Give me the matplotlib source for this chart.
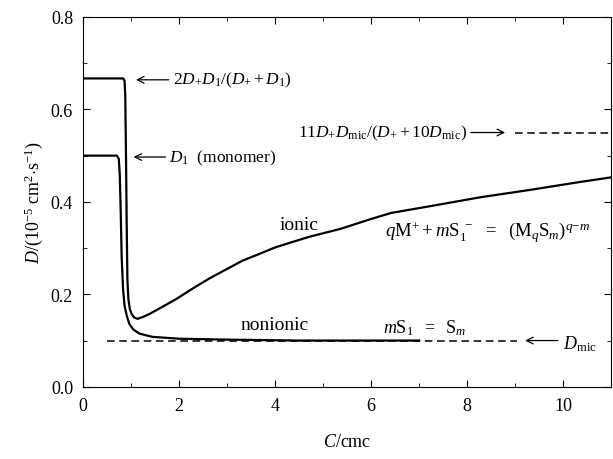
import numpy as np
import matplotlib.pyplot as plt
from matplotlib.ticker import MultipleLocator, FormatStrFormatter

plt.rcParams['font.family'] = 'Liberation Serif'
plt.rcParams['mathtext.fontset'] = 'custom'
plt.rcParams['mathtext.rm'] = 'Liberation Serif'
plt.rcParams['mathtext.it'] = 'Liberation Serif:italic'

# ionic surfactant curve
ionic_c = [0, 0.84, 0.87, 0.885, 0.9, 0.915, 0.93, 0.95, 0.98, 1.02, 1.07, 1.14, 1.25, 1.4,
           1.59, 1.95, 2.28, 2.63, 3.31, 4.02, 4.7, 5.38, 5.94, 6.42, 7.25, 8.28, 9.32,
           10.35, 11.0]
ionic_d = [0.667, 0.667, 0.662, 0.63, 0.5, 0.35, 0.23, 0.19, 0.168, 0.157, 0.15, 0.147, 0.151, 0.158,
           0.169, 0.19, 0.212, 0.234, 0.272, 0.302, 0.324, 0.342, 0.361, 0.376, 0.391, 0.41, 0.426,
           0.443, 0.453]

# nonionic surfactant curve
nonionic_c = [0, 0.71, 0.75, 0.77, 0.79, 0.81, 0.84, 0.87, 0.92, 0.97, 1.05, 1.18, 1.45, 2.0,
              3.0, 4.5, 7.0]
nonionic_d = [0.5, 0.5, 0.493, 0.46, 0.38, 0.28, 0.21, 0.175, 0.152, 0.136, 0.124, 0.115, 0.108,
              0.104, 0.102, 0.1, 0.1]

d_mic = 0.1
d_limit = 0.55

fig = plt.figure(figsize=(6.13, 4.6), dpi=100)
ax = fig.add_axes([0.135, 0.157, 0.862, 0.804])

ax.plot(ionic_c, ionic_d, color='black', lw=1.6)
ax.plot(nonionic_c, nonionic_d, color='black', lw=1.6)
ax.plot([0.5, 9.05], [d_mic, d_mic], color='black', lw=1.1, ls=(0, (5, 3)))
ax.plot([9.0, 11.0], [d_limit, d_limit], color='black', lw=1.1, ls=(0, (5, 3)))

arrow = dict(arrowstyle='->', lw=0.9, color='black', mutation_scale=12)
ax.annotate('', xy=(1.05, 0.664), xytext=(1.85, 0.664), arrowprops=arrow)
ax.annotate('', xy=(1.0, 0.497), xytext=(1.78, 0.497), arrowprops=arrow)
ax.annotate('', xy=(8.85, d_limit), xytext=(8.02, d_limit), arrowprops=arrow)
ax.annotate('', xy=(9.15, d_mic), xytext=(9.95, d_mic), arrowprops=arrow)

fs = 12.5
ax.text(1.88, 0.664, r'$2D_{+}D_{1}/(D_{+}+D_{1})$', fontsize=fs, va='center')
ax.text(1.8, 0.497, r'$D_{1}$  (monomer)', fontsize=fs, va='center')
ax.text(8.0, d_limit, r'$11D_{+}D_{\rm mic}/(D_{+}+10D_{\rm mic})$', fontsize=fs, va='center', ha='right')
ax.text(10.0, 0.095, r'$D_{\rm mic}$', fontsize=fs + 0.5, va='center')
ax.text(4.5, 0.352, 'ionic', fontsize=14, ha='center', va='center')
ax.text(4.0, 0.134, 'nonionic', fontsize=14, ha='center', va='center')
ax.text(6.25, 0.128, r'$m\mathrm{S}_{1}\ \ =\ \ \mathrm{S}_{m}$', fontsize=13, va='center')
ax.text(6.3, 0.335,
        r'$q\mathrm{M}^{+}+m\mathrm{S}_{1}^{\ -}\ \ =\ \ (\mathrm{M}_{q}\mathrm{S}_{m})^{q\!-\!m}$',
        fontsize=13.5, va='center')

ax.set_xlim(0, 11)
ax.set_ylim(0, 0.8)
ax.xaxis.set_major_locator(MultipleLocator(2))
ax.xaxis.set_minor_locator(MultipleLocator(1))
ax.yaxis.set_major_locator(MultipleLocator(0.2))
ax.yaxis.set_minor_locator(MultipleLocator(0.1))
ax.yaxis.set_major_formatter(FormatStrFormatter('%.1f'))
ax.tick_params(which='both', direction='in', top=True, right=True, labelsize=13, pad=7)
ax.tick_params(which='major', length=5)
ax.tick_params(which='minor', length=3)

ax.set_xlabel(r'$C$/cmc', fontsize=13, labelpad=14)
ax.set_ylabel(r'$D$/(10$^{-5}$ cm$^{2}$$\cdot$s$^{-1}$)', fontsize=13)

plt.savefig('out.png', dpi=100)
